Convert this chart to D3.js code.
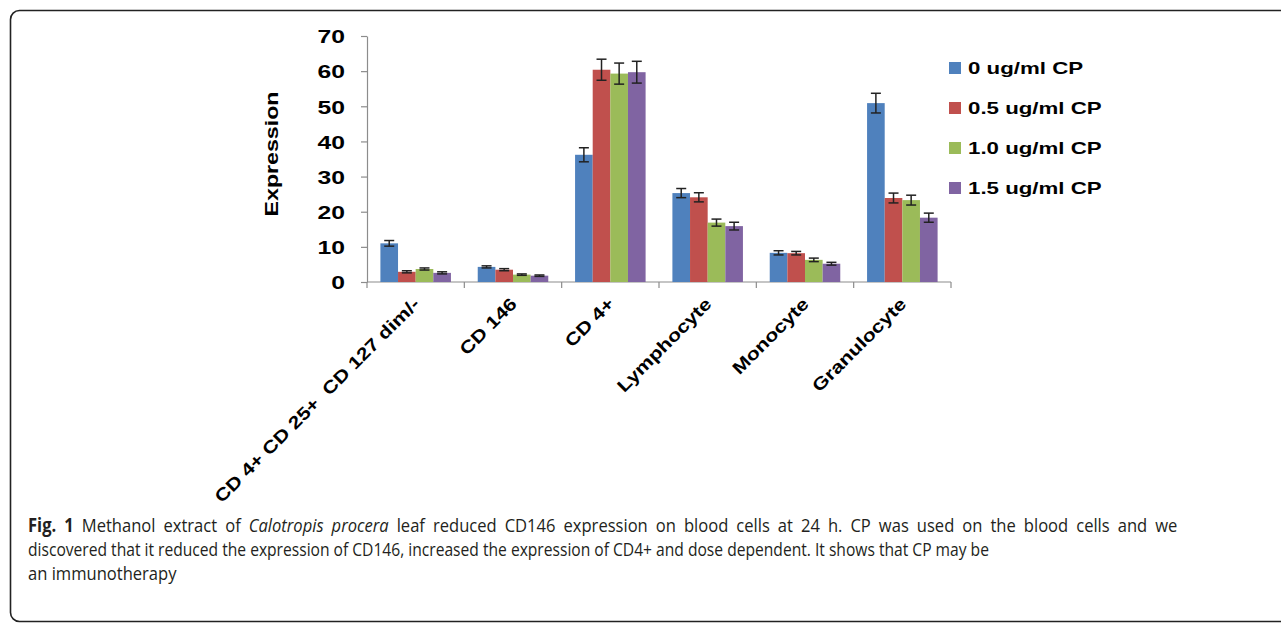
<!DOCTYPE html>
<html>
<head>
<meta charset="utf-8">
<script src="https://cdn.jsdelivr.net/npm/d3@7"></script>
<style>
  html, body { margin: 0; padding: 0; background: #fff; }
  svg { display: block; }
</style>
</head>
<body>
<svg id="fig" width="1281" height="624"></svg>
<script>
// Cell populations measured at 24 h
const categories = ["CD 4+ CD 25+  CD 127 dim/-", "CD 146", "CD 4+", "Lymphocyte", "Monocyte", "Granulocyte"];
const seriesNames = ["0 ug/ml CP", "0.5 ug/ml CP", "1.0 ug/ml CP", "1.5 ug/ml CP"];
const colors = ["#4F81BD", "#C0504D", "#9BBB59", "#8064A2"];

// Mean expression per series, one value per category
const cp0  = [11.0, 4.3, 36.2, 25.3, 8.3, 50.9];
const cp05 = [2.9, 3.5, 60.4, 24.1, 8.2, 23.9];
const cp10 = [3.7, 2.1, 59.3, 16.9, 6.3, 23.3];
const cp15 = [2.6, 1.8, 59.7, 15.9, 5.2, 18.3];

// Error bar half-widths
const err0  = [0.8, 0.3, 2.0, 1.3, 0.6, 2.8];
const err05 = [0.3, 0.3, 3.0, 1.3, 0.5, 1.4];
const err10 = [0.3, 0.2, 3.0, 1.0, 0.5, 1.4];
const err15 = [0.3, 0.2, 3.1, 1.1, 0.4, 1.3];

const yTicks = [0, 10, 20, 30, 40, 50, 60, 70];

const captionLines = [
  [{t: "Fig. 1", w: "bold"}, {t: " Methanol extract of "}, {t: "Calotropis procera", s: "italic"},
   {t: " leaf reduced CD146 expression on blood cells at 24 h. CP was used on the blood cells and we"}],
  [{t: "discovered that it reduced the expression of CD146, increased the expression of CD4+ and dose dependent. It shows that CP may be"}],
  [{t: "an immunotherapy"}]
];

const values = [cp0, cp05, cp10, cp15];
const errors = [err0, err05, err10, err15];

const svg = d3.select("#fig");
const FONT = "'Liberation Sans', Arial, Helvetica, sans-serif";
const SX = 1.3;   // wide bold face used for the chart lettering

// panel frame
svg.append("rect")
  .attr("x", 10.5).attr("y", 10.5)
  .attr("width", 1300).attr("height", 611)
  .attr("rx", 9).attr("ry", 9)
  .attr("fill", "none").attr("stroke", "#222").attr("stroke-width", 1.6);

const plot = {left: 367, right: 951, top: 36, bottom: 282};

const y = d3.scaleLinear().domain([0, 70]).range([plot.bottom, plot.top]);
const x0 = d3.scaleBand().domain(categories).range([plot.left, plot.right]).padding(0);
const x1 = d3.scaleBand().domain(seriesNames).range([0, x0.bandwidth()])
  .paddingInner(0).paddingOuter(0.76);

// y axis
const yAxis = svg.append("g")
  .attr("transform", `translate(${plot.left},0)`)
  .call(d3.axisLeft(y).tickValues(yTicks).tickSize(6).tickSizeOuter(0));
yAxis.select(".domain").attr("stroke", "#8c8c8c").attr("stroke-width", 1.2);
yAxis.selectAll(".tick line").attr("stroke", "#8c8c8c").attr("stroke-width", 1.2);
yAxis.selectAll(".tick text")
  .attr("x", null).attr("dy", "0.36em")
  .attr("transform", `translate(-22,0) scale(${SX},1)`)
  .attr("font-family", FONT).attr("font-weight", "bold")
  .attr("font-size", 19).attr("fill", "#000");

// x axis: category boundaries as ticks
const xAxisG = svg.append("g").attr("class", "xaxis");
xAxisG.append("line")
  .attr("x1", plot.left).attr("x2", plot.right)
  .attr("y1", plot.bottom).attr("y2", plot.bottom)
  .attr("stroke", "#8c8c8c").attr("stroke-width", 1.2);
const boundaries = categories.map(c => x0(c)).concat([x0(categories[categories.length - 1]) + x0.bandwidth()]);
xAxisG.selectAll("line.tick").data(boundaries).join("line")
  .attr("class", "tick")
  .attr("x1", d => d).attr("x2", d => d)
  .attr("y1", plot.bottom).attr("y2", plot.bottom + 6)
  .attr("stroke", "#8c8c8c").attr("stroke-width", 1.2);

// category labels, slanted
xAxisG.selectAll("text").data(categories).join("text")
  .attr("transform", d => `translate(${x0(d) + x0.bandwidth() / 2 + 5},${plot.bottom + 23}) rotate(-45) scale(1.22,1)`)
  .attr("text-anchor", "end")
  .attr("font-family", FONT).attr("font-weight", "bold")
  .attr("font-size", 17.5).attr("fill", "#000")
  .attr("xml:space", "preserve")
  .style("white-space", "pre")
  .text(d => d);

// bars
const barData = [];
categories.forEach((c, ci) => {
  seriesNames.forEach((s, si) => {
    barData.push({c, s, si, v: values[si][ci], e: errors[si][ci]});
  });
});

const bars = svg.append("g").attr("class", "bars");
bars.selectAll("rect").data(barData).join("rect")
  .attr("x", d => x0(d.c) + x1(d.s))
  .attr("y", d => y(d.v))
  .attr("width", x1.bandwidth())
  .attr("height", d => y(0) - y(d.v))
  .attr("fill", d => colors[d.si]);

// error bars
const capW = 10;
const eb = svg.append("g").attr("class", "errorbars")
  .attr("stroke", "#222").attr("stroke-width", 1.5).attr("fill", "none");
barData.forEach(d => {
  const cx = x0(d.c) + x1(d.s) + x1.bandwidth() / 2;
  const yt = y(d.v + d.e), yb = y(d.v - d.e);
  eb.append("line").attr("x1", cx).attr("x2", cx).attr("y1", yt).attr("y2", yb);
  eb.append("line").attr("x1", cx - capW / 2).attr("x2", cx + capW / 2).attr("y1", yt).attr("y2", yt);
  eb.append("line").attr("x1", cx - capW / 2).attr("x2", cx + capW / 2).attr("y1", yb).attr("y2", yb);
});

// y axis title
svg.append("text")
  .attr("transform", `translate(278,154) rotate(-90) scale(1.22,1)`)
  .attr("text-anchor", "middle")
  .attr("font-family", FONT).attr("font-weight", "bold")
  .attr("font-size", 19).attr("fill", "#000")
  .text("Expression");

// legend
const legend = svg.append("g").attr("class", "legend");
const legY = d3.scalePoint().domain(seriesNames).range([68, 188]);
seriesNames.forEach((s, i) => {
  const cy = legY(s);
  legend.append("rect")
    .attr("x", 949).attr("y", cy - 6).attr("width", 12).attr("height", 12)
    .attr("fill", colors[i]);
  legend.append("text")
    .attr("transform", `translate(968,${cy + 6}) scale(1.35,1)`)
    .attr("font-family", FONT).attr("font-weight", "bold")
    .attr("font-size", 16.5).attr("fill", "#000")
    .text(s);
});

// figure caption: condensed face, first line set justified
const capG = svg.append("g").attr("class", "caption");
const capFont = "'Open Sans', 'Noto Sans', sans-serif";
const capBase = [532, 556, 580];
const capX = 28;
const capWidths = [1150, 962];
const lineNodes = captionLines.map((parts, li) => {
  const t = capG.append("text")
    .attr("x", 0).attr("y", 0)
    .attr("font-family", capFont).attr("font-size", 19).attr("fill", "#231f20")
    .attr("xml:space", "preserve");
  parts.forEach(p => {
    t.append("tspan")
      .attr("font-weight", p.w || "normal")
      .attr("font-style", p.s || "normal")
      .text(p.t);
  });
  return t;
});
const baseScale = capWidths[1] / lineNodes[1].node().getComputedTextLength();
const wideScale = baseScale * 1.06;
lineNodes.forEach((t, li) => {
  let sx = baseScale;
  if (li === 0) {
    sx = wideScale;
    const nat = t.node().getComputedTextLength();
    const spaces = captionLines[0].map(p => p.t).join("").split(" ").length - 1;
    const extra = (capWidths[0] / sx - nat) / spaces;
    t.attr("word-spacing", Math.max(0, extra));
  } else if (li === 2) {
    sx = wideScale;
  }
  t.attr("transform", `translate(${capX},${capBase[li]}) scale(${sx},1)`);
});
</script>
</body>
</html>
